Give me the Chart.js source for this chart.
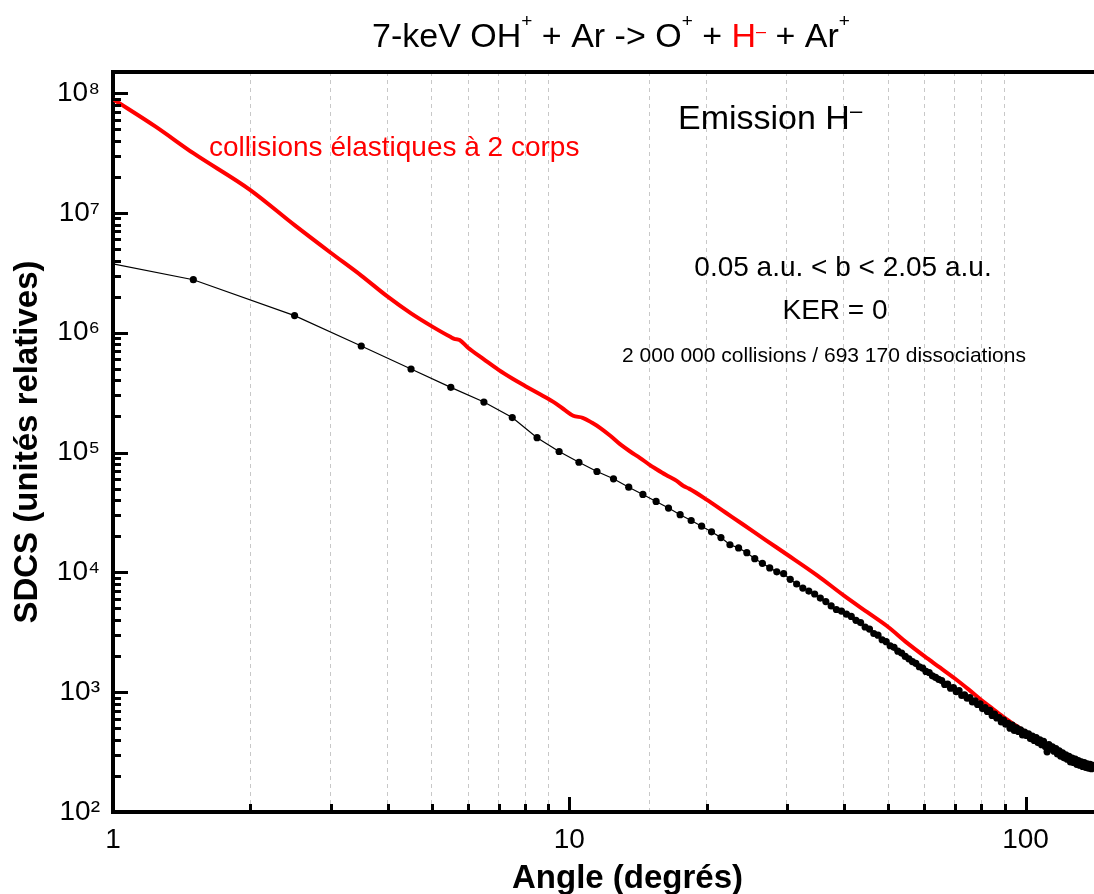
<!DOCTYPE html>
<html lang="fr">
<head>
<meta charset="UTF-8">
<title>SDCS emission H-</title>
<style>
  html, body { margin: 0; padding: 0; background: #fff; overflow: hidden; }
  canvas { display: block; }
</style>
</head>
<body>
<!-- le cadre continue jusqu'a 180 degres, au-dela du bord droit de la fenetre -->
<canvas id="sdcs" width="1153" height="894"></canvas>

<script src="https://cdn.jsdelivr.net/npm/chart.js"></script>
<script>
// points noirs : simulation (angle en degres, SDCS unites relatives)
const simAngles = [
  1, 1.5, 2.5, 3.5, 4.5, 5.5, 6.5, 7.5, 8.5, 9.5,
  10.5, 11.5, 12.5, 13.5, 14.5, 15.5, 16.5, 17.5, 18.5, 19.5,
  20.5, 21.5, 22.5, 23.5, 24.5, 25.5, 26.5, 27.5, 28.5, 29.5,
  30.5, 31.5, 32.5, 33.5, 34.5, 35.5, 36.5, 37.5, 38.5, 39.5,
  40.5, 41.5, 42.5, 43.5, 44.5, 45.5, 46.5, 47.5, 48.5, 49.5,
  50.5, 51.5, 52.5, 53.5, 54.5, 55.5, 56.5, 57.5, 58.5, 59.5,
  60.5, 61.5, 62.5, 63.5, 64.5, 65.5, 66.5, 67.5, 68.5, 69.5,
  70.5, 71.5, 72.5, 73.5, 74.5, 75.5, 76.5, 77.5, 78.5, 79.5,
  80.5, 81.5, 82.5, 83.5, 84.5, 85.5, 86.5, 87.5, 88.5, 89.5,
  90.5, 91.5, 92.5, 93.5, 94.5, 95.5, 96.5, 97.5, 98.5, 99.5,
  100.5, 101.5, 102.5, 103.5, 104.5, 105.5, 106.5, 107.5, 108.5, 109.5,
  110.5, 111.5, 112.5, 113.5, 114.5, 115.5, 116.5, 117.5, 118.5, 119.5,
  120.5, 121.5, 122.5, 123.5, 124.5, 125.5, 126.5, 127.5, 128.5, 129.5,
  130.5, 131.5, 132.5, 133.5, 134.5, 135.5, 136.5, 137.5, 138.5, 139.5,
  140.5, 141.5
];
const simSdcs = [
  3.76e6, 2.77e6, 1.39e6, 7.75e5, 4.98e5, 3.50e5, 2.64e5, 1.96e5, 1.33e5, 1.02e5,
  8.3e4, 6.95e4, 6.04e4, 5.14e4, 4.47e4, 3.91e4, 3.44e4, 3.03e4, 2.71e4, 2.43e4,
  2.18e4, 1.95e4, 1.70e4, 1.60e4, 1.46e4, 1.30e4, 1.19e4, 1.09e4, 1.01e4, 9760,
  8740, 8000, 7400, 6980, 6600, 6100, 5700, 5250, 4900, 4750,
  4480, 4290, 3980, 3810, 3500, 3360, 3090, 2990, 2740, 2640,
  2440, 2370, 2200, 2120, 1990, 1900, 1800, 1740, 1630, 1590,
  1490, 1460, 1370, 1330, 1280, 1250, 1160, 1170, 1080, 1090,
  1010, 1030, 940, 950, 890, 900, 830, 845, 790, 800,
  730, 745, 690, 705, 640, 655, 610, 615, 565, 585,
  540, 550, 500, 530, 480, 505, 470, 485, 440, 465,
  435, 450, 410, 430, 395, 418, 380, 400, 365, 388,
  352, 318, 365, 336, 350, 322, 338, 305, 324, 292,
  312, 283, 300, 276, 292, 262, 282, 259, 276, 250,
  268, 246, 262, 240, 258, 236, 252, 232, 250, 230,
  245, 236
];

// courbe rouge : collisions elastiques a 2 corps
const elasAngles = [
  1, 1.24, 1.5, 2, 2.5, 3, 3.5, 4, 4.5, 5,
  5.5, 5.6, 5.75, 6, 6.5, 7, 7.5, 8,
  8.65, 9.3, 9.8, 10.2, 10.7, 11.2, 11.7, 12.3, 12.9, 13.6,
  14.3, 15, 15.5, 16.3, 17.2, 17.8, 18.3, 20, 22, 24,
  27, 30, 35, 40, 45, 50, 55, 60, 65, 70,
  75, 80, 85, 90, 95, 100, 105, 110, 115
];
const elasSdcs = [
  8.9e7, 5.25e7, 3.15e7, 1.55e7, 7.9e6, 4.65e6, 3.0e6, 2.0e6, 1.45e6, 1.13e6,
  9.2e5, 8.9e5, 8.7e5, 7.5e5, 6.0e5, 4.9e5, 4.15e5, 3.6e5,
  3.05e5, 2.6e5, 2.25e5, 2.03e5, 1.95e5, 1.78e5, 1.6e5, 1.38e5, 1.18e5, 1.02e5,
  9.0e4, 7.9e4, 7.3e4, 6.5e4, 5.8e4, 5.25e4, 5.0e4, 4.05e4, 3.16e4, 2.52e4,
  1.85e4, 1.41e4, 9.4e3, 6.4e3, 4.65e3, 3.5e3, 2.58e3, 2.0e3, 1.6e3, 1.3e3,
  1.055e3, 8.6e2, 7.2e2, 6.1e2, 5.3e2, 4.65e2, 4.1e2, 3.7e2, 3.4e2
];

const xTickLabels = [1, 10, 100];
const yTickExponents = [2, 3, 4, 5, 6, 7, 8];

const FONT = "'Liberation Sans', Arial, Helvetica, sans-serif";
const SUP = '⁰¹²³⁴⁵⁶⁷⁸⁹';

function isDecade(v) {
  const e = Math.round(Math.log10(v));
  return Math.abs(v - Math.pow(10, e)) < 1e-9 * v;
}
function isWhole(v) {
  const s = v / Math.pow(10, Math.floor(Math.log10(v) + 1e-9));
  return Math.abs(s - Math.round(s)) < 1e-6;
}

// texte avec exposants / couleurs melangees
function drawRich(ctx, parts, x, y, align) {
  let w = 0;
  parts.forEach(p => { ctx.font = p[1] + 'px ' + FONT; w += ctx.measureText(p[0]).width; });
  let cx = align === 'center' ? x - w / 2 : x;
  ctx.textAlign = 'left';
  ctx.textBaseline = 'alphabetic';
  parts.forEach(p => {
    ctx.font = p[1] + 'px ' + FONT;
    ctx.fillStyle = p[2];
    ctx.fillText(p[0], cx, y - p[3]);
    cx += ctx.measureText(p[0]).width;
  });
}

// ticks vers l'interieur + cadre du haut
const frameTicks = {
  id: 'frameTicks',
  afterDraw(chart) {
    const {ctx, chartArea: a, scales: {x, y}} = chart;
    ctx.save();
    ctx.strokeStyle = '#000';
    ctx.lineWidth = 4;
    ctx.beginPath();
    ctx.moveTo(a.left - 2, a.top);
    ctx.lineTo(a.right, a.top);
    ctx.stroke();
    ctx.lineWidth = 3;
    x.ticks.forEach(t => {
      if (!isWhole(t.value)) return;
      const px = Math.round(x.getPixelForValue(t.value)) + 0.5;
      const len = isDecade(t.value) ? 15 : 8;
      ctx.beginPath();
      ctx.moveTo(px, a.bottom);
      ctx.lineTo(px, a.bottom - len);
      ctx.stroke();
    });
    y.ticks.forEach(t => {
      if (!isWhole(t.value)) return;
      const py = Math.round(y.getPixelForValue(t.value)) + 0.5;
      const len = isDecade(t.value) ? 15 : 8;
      ctx.beginPath();
      ctx.moveTo(a.left, py);
      ctx.lineTo(a.left + len, py);
      ctx.stroke();
    });
    ctx.restore();
  }
};

const annotations = {
  id: 'annotations',
  afterDraw(chart) {
    const ctx = chart.ctx;
    ctx.save();
    drawRich(ctx, [
      ['7-keV OH', 34, '#000', 0], ['+', 19, '#000', 20],
      [' + Ar -> O', 34, '#000', 0], ['+', 19, '#000', 20],
      [' + ', 34, '#000', 0], ['H', 34, '#ff0000', 0], ['–', 18, '#ff0000', 10],
      [' + Ar', 34, '#000', 0], ['+', 19, '#000', 20]
    ], 611, 47, 'center');
    drawRich(ctx, [['Emission H', 34, '#000', 0], ['–', 22, '#000', 11]], 678, 129, 'left');
    drawRich(ctx, [['collisions élastiques à 2 corps', 28, '#ff0000', 0]], 209, 156, 'left');
    drawRich(ctx, [['0.05 a.u. < b < 2.05 a.u.', 28, '#000', 0]], 843, 276, 'center');
    drawRich(ctx, [['KER = 0', 28, '#000', 0]], 835, 319, 'center');
    drawRich(ctx, [['2 000 000 collisions / 693 170 dissociations', 21, '#000', 0]], 824, 362, 'center');
    ctx.restore();
  }
};

new Chart(document.getElementById('sdcs'), {
  type: 'line',
  data: {
    datasets: [
      {
        label: 'simulation',
        data: simAngles.map((a, i) => ({x: a, y: simSdcs[i]})),
        borderColor: '#000',
        backgroundColor: '#000',
        borderWidth: 1.2,
        pointRadius: c => c.dataIndex === 0 ? 0 : 3.6,
        pointBorderWidth: 0,
        pointHoverRadius: 0,
        order: 0
      },
      {
        label: 'collisions élastiques à 2 corps',
        data: elasAngles.map((a, i) => ({x: a, y: elasSdcs[i]})),
        borderColor: '#ff0000',
        borderWidth: 4,
        pointRadius: 0,
        cubicInterpolationMode: 'monotone',
        order: 1
      }
    ]
  },
  options: {
    responsive: false,
    animation: false,
    devicePixelRatio: 1,
    layout: { padding: { top: 72, right: 0, bottom: 0, left: 0 } },
    plugins: { legend: { display: false }, tooltip: { enabled: false } },
    scales: {
      x: {
        type: 'logarithmic',
        position: 'bottom',
        min: 1,
        max: 180,
        afterFit: s => { s.height = 82; },
        grid: {
          drawTicks: false,
          lineWidth: 1,
          color: c => (c.tick && !isDecade(c.tick.value)) ? '#c8c8c8' : 'rgba(0,0,0,0)'
        },
        border: { display: true, color: '#000', width: 4, dash: [4, 4] },
        ticks: {
          autoSkip: false,
          maxRotation: 0,
          padding: 11,
          color: '#000',
          font: { family: FONT, size: 28 },
          callback: v => xTickLabels.includes(v) ? String(v) : ''
        },
        title: {
          display: true,
          text: 'Angle (degrés)',
          color: '#000',
          font: { family: FONT, size: 33, weight: 'bold', lineHeight: 0.93 },
          padding: { top: 0, bottom: 0 }
        }
      },
      y: {
        type: 'logarithmic',
        min: 100,
        max: 1.5e8,
        afterFit: s => { s.width = 113; },
        grid: { display: true, drawOnChartArea: false, drawTicks: false },
        border: { display: true, color: '#000', width: 4 },
        ticks: {
          autoSkip: false,
          padding: 13,
          color: '#000',
          font: { family: FONT, size: 28 },
          callback: v => {
            const e = Math.round(Math.log10(v));
            return (isDecade(v) && yTickExponents.includes(e)) ? '10' + SUP[e] : '';
          }
        },
        title: {
          display: true,
          text: 'SDCS (unités relatives)',
          color: '#000',
          font: { family: FONT, size: 33, weight: 'bold', lineHeight: 0.93 },
          padding: { top: 13, bottom: 0 }
        }
      }
    }
  },
  plugins: [frameTicks, annotations]
});
</script>
</body>
</html>
